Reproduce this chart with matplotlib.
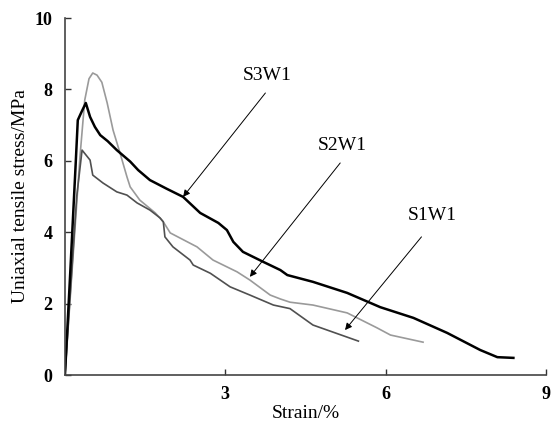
import matplotlib
matplotlib.use("Agg")
import matplotlib.pyplot as plt

plt.rcParams['font.family'] = ['Liberation Serif', 'DejaVu Serif']

# S3W1 (black)
s3_strain = [0.0, 0.10, 0.20, 0.24, 0.31, 0.39, 0.47, 0.56, 0.66, 0.80, 0.97, 1.22, 1.37, 1.59, 1.90, 2.21, 2.53,
             2.87, 3.03, 3.15, 3.33, 3.71, 4.03, 4.16, 4.64, 5.28, 5.90, 6.52, 7.15, 7.77, 8.09, 8.39]
s3_stress = [0.0, 2.9, 5.9, 7.14, 7.37, 7.62, 7.23, 6.95, 6.72, 6.55, 6.30, 5.98, 5.74, 5.46, 5.22, 4.99, 4.54,
             4.26, 4.06, 3.73, 3.45, 3.17, 2.94, 2.80, 2.61, 2.30, 1.90, 1.60, 1.18, 0.70, 0.50, 0.48]

# S2W1 (light grey)
s2_strain = [0.0, 0.10, 0.28, 0.37, 0.45, 0.52, 0.60, 0.69, 0.79, 0.90, 1.03, 1.16, 1.22, 1.40, 1.69,
             1.84, 1.97, 2.47, 2.77, 3.22, 3.46, 3.84, 4.03, 4.21, 4.64, 5.28, 5.84, 6.09, 6.70]
s2_stress = [0.0, 2.2, 6.1, 7.7, 8.3, 8.46, 8.40, 8.2, 7.62, 6.86, 6.22, 5.55, 5.27, 4.90, 4.54,
             4.29, 3.98, 3.59, 3.22, 2.89, 2.66, 2.24, 2.13, 2.04, 1.96, 1.74, 1.32, 1.12, 0.92]

# S1W1 (dark grey)
s1_strain = [0.0, 0.10, 0.22, 0.32, 0.47, 0.52, 0.71, 0.97, 1.16, 1.35, 1.59, 1.78, 1.84, 1.87,
             2.02, 2.34, 2.40, 2.72, 3.09, 3.46, 3.90, 4.21, 4.64, 5.49]
s1_stress = [0.0, 2.3, 5.0, 6.30, 6.02, 5.60, 5.38, 5.13, 5.04, 4.82, 4.62, 4.40, 4.29, 3.87,
             3.59, 3.22, 3.08, 2.85, 2.47, 2.24, 1.96, 1.86, 1.40, 0.95]

labels = ["S3W1", "S2W1", "S1W1"]
label_xy = [(3.78, 8.40), (5.19, 6.44), (6.87, 4.48)]
arrow_start = [(3.75, 7.90), (5.15, 5.94), (6.67, 3.87)]
arrow_tip = [(2.21, 4.99), (3.46, 2.75), (5.24, 1.26)]

x_ticks = [3, 6, 9]
y_ticks = [0, 2, 4, 6, 8, 10]

fig = plt.figure(figsize=(5.6, 4.25), dpi=100)
ax = fig.add_axes([0.116, 0.1176, 0.859, 0.84])

ax.plot(s2_strain, s2_stress, color='#9a9a9a', lw=1.2)
ax.plot(s1_strain, s1_stress, color='#505050', lw=1.2)
ax.plot(s3_strain, s3_stress, color='#000000', lw=1.8)

for lab, lxy, st, tip in zip(labels, label_xy, arrow_start, arrow_tip):
    ax.text(lxy[0], lxy[1], lab, fontsize=14, ha='center', va='center')
    ax.annotate('', xy=tip, xytext=st,
                arrowprops=dict(arrowstyle='-|>', lw=0.7, color='black', mutation_scale=10,
                                shrinkA=0, shrinkB=0))

ax.set_xlim(0, 9)
ax.set_ylim(0, 10)
ax.set_xticks(x_ticks)
ax.set_yticks(y_ticks)
ax.set_xticklabels([str(t) for t in x_ticks], fontsize=13, fontweight='bold')
ax.set_yticklabels([str(t) for t in y_ticks], fontsize=13, fontweight='bold')
ax.tick_params(direction='in', length=4, width=1, colors='#333333', labelcolor='black')
ax.tick_params(axis='x', pad=8)
ax.tick_params(axis='y', pad=9)

for side in ['top', 'right']:
    ax.spines[side].set_visible(False)
for side in ['left', 'bottom']:
    ax.spines[side].set_color('#444444')
    ax.spines[side].set_linewidth(1.2)

ax.set_xlabel('Strain/%', fontsize=14, labelpad=1)
ax.set_ylabel('Uniaxial tensile stress/MPa', fontsize=14, labelpad=4)

fig.savefig('out.png', dpi=100)
